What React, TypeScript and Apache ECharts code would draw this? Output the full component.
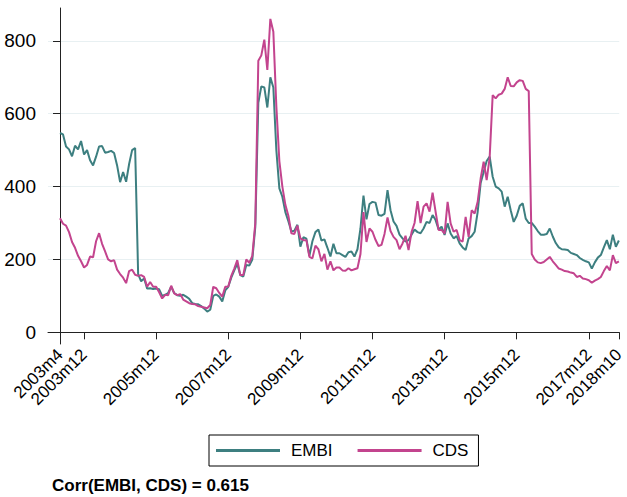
import React, { useEffect, useRef } from "react";
import * as echarts from "echarts";

// Monthly series, 2003m4 .. 2018m10 (187 months)
const startYear = 2003;
const startMonth = 4;

const embi: number[] = [
  547, 543, 510, 502, 483, 512, 502, 525, 488, 500, 472, 458, 482, 510, 511, 493, 495, 498, 492, 458,
  412, 440, 413, 462, 500, 506, 160, 140, 148, 120, 121, 119, 120, 118, 100, 103, 108, 125, 108, 102,
  100, 103, 98, 92, 80, 78, 77, 72, 65, 57, 62, 100, 104, 98, 85, 115, 125, 150, 170, 188,
  157, 153, 185, 183, 200, 290, 630, 675, 672, 617, 700, 672, 500, 395, 372, 330, 305, 277, 279, 295,
  235, 261, 257, 210, 250, 275, 282, 252, 255, 232, 208, 243, 217, 217, 212, 207, 220, 222, 208, 228,
  285, 375, 310, 352, 358, 356, 322, 320, 325, 390, 335, 304, 292, 268, 258, 249, 253, 268, 282, 275,
  272, 285, 303, 300, 322, 308, 282, 290, 267, 299, 271, 258, 264, 244, 233, 226, 258, 264, 276, 330,
  410, 440, 470, 482, 427, 400, 395, 386, 345, 372, 335, 303, 320, 347, 354, 312, 300, 300, 290, 278,
  268, 268, 270, 285, 263, 245, 233, 228, 227, 226, 218, 215, 212, 204, 199, 195, 192, 175, 192, 205,
  212, 233, 253, 228, 268, 235, 252,
];

const cds: number[] = [
  313, 298, 293, 275, 248, 232, 210, 195, 178, 185, 208, 206, 250, 272, 243, 222, 200, 195, 198, 172,
  160, 150, 135, 168, 172, 158, 155, 157, 152, 125, 138, 125, 125, 110, 93, 103, 102, 128, 107, 102,
  105, 90, 85, 80, 78, 77, 72, 70, 68, 66, 75, 125, 121, 108, 98, 125, 126, 155, 175, 198,
  157, 157, 200, 191, 210, 300, 745, 760, 803, 720, 860, 825, 620, 470, 400, 350, 320, 272, 270, 293,
  258, 253, 253, 207, 203, 238, 228, 195, 215, 172, 195, 170, 178, 178, 170, 169, 176, 170, 173, 176,
  215, 330, 248, 285, 276, 254, 237, 240, 270, 315, 278, 262, 253, 228, 244, 265, 226, 275, 300, 360,
  300, 345, 354, 331, 383, 331, 281, 281, 271, 358, 299, 276, 281, 253, 249, 317, 262, 335, 326, 358,
  422, 468, 418, 480, 651, 642, 652, 655, 668, 700, 676, 675, 686, 692, 690, 668, 662, 215, 200, 192,
  190, 193, 200, 207, 195, 185, 175, 172, 168, 167, 164, 162, 152, 155, 148, 146, 143, 136, 142, 146,
  152, 168, 182, 170, 212, 190, 195,
];

const xTickLabels: string[] = [
  "2003m4", "2003m12", "2005m12", "2007m12", "2009m12",
  "2011m12", "2013m12", "2015m12", "2017m12", "2018m10",
];

const yTickValues: number[] = [0, 200, 400, 600, 800];

const seriesNames = ["EMBI", "CDS"];
const noteText = "Corr(EMBI, CDS) = 0.615";

function labelToIndex(label: string): number {
  const [y, m] = label.split("m").map(Number);
  return (y - startYear) * 12 + (m - startMonth);
}

function indexToLabel(i: number): string {
  const total = startMonth - 1 + Math.round(i);
  const y = startYear + Math.floor(total / 12);
  const m = (total % 12) + 1;
  return `${y}m${m}`;
}

export default function App() {
  const ref = useRef<HTMLDivElement>(null);

  useEffect(() => {
    if (!ref.current) return;
    const chart = echarts.init(ref.current, undefined, { renderer: "svg" });
    const xTicks = xTickLabels.map(labelToIndex);
    const font = "'Liberation Sans', Arial, sans-serif";

    chart.setOption({
      animation: false,
      backgroundColor: "#ffffff",
      textStyle: { fontFamily: font },
      grid: { left: 48, right: 0, top: 8, bottom: 153, containLabel: false },
      xAxis: {
        type: "value",
        min: -4,
        max: 186.13,
        axisLine: { show: true, lineStyle: { color: "#222", width: 1 } },
        axisTick: {
          show: true,
          length: 7,
          customValues: xTicks,
          lineStyle: { color: "#222", width: 1 },
        },
        axisLabel: {
          customValues: xTicks,
          rotate: 45,
          margin: 8,
          fontSize: 17,
          color: "#000",
          fontFamily: font,
          formatter: (v: number) => indexToLabel(v),
        },
        splitLine: { show: false },
      },
      yAxis: {
        type: "value",
        min: -32,
        max: 890,
        axisLine: { show: true, lineStyle: { color: "#222", width: 1 } },
        axisTick: {
          show: true,
          length: 7,
          customValues: yTickValues,
          lineStyle: { color: "#222", width: 1 },
        },
        axisLabel: {
          customValues: yTickValues,
          margin: 12,
          fontSize: 19,
          color: "#000",
          fontFamily: font,
        },
        splitLine: { show: true, lineStyle: { color: "#e8f0f2", width: 1 } },
      },
      legend: {
        data: seriesNames,
        left: 209,
        top: 435,
        orient: "horizontal",
        icon: "rect",
        itemWidth: 64,
        itemHeight: 3,
        itemGap: 25,
        padding: [7, 10, 7, 7],
        borderColor: "#000",
        borderWidth: 1,
        borderRadius: 0,
        textStyle: { fontSize: 17, color: "#000", fontFamily: font, padding: [0, 0, 0, 6] },
      },
      title: {
        text: noteText,
        left: 52,
        top: 477,
        padding: 0,
        textStyle: { fontSize: 17, fontWeight: "bold", color: "#000", fontFamily: font },
      },
      series: [
        {
          name: seriesNames[0],
          type: "line",
          data: embi.map((v, i) => [i, v]),
          showSymbol: false,
          symbol: "none",
          lineStyle: { color: "#3d7f80", width: 2 },
          itemStyle: { color: "#3d7f80" },
        },
        {
          name: seriesNames[1],
          type: "line",
          data: cds.map((v, i) => [i, v]),
          showSymbol: false,
          symbol: "none",
          lineStyle: { color: "#c3448e", width: 2 },
          itemStyle: { color: "#c3448e" },
        },
      ],
    });

    return () => chart.dispose();
  }, []);

  return (
    <div
      ref={ref}
      style={{ position: "fixed", left: 0, top: 0, width: 627, height: 497 }}
    />
  );
}
